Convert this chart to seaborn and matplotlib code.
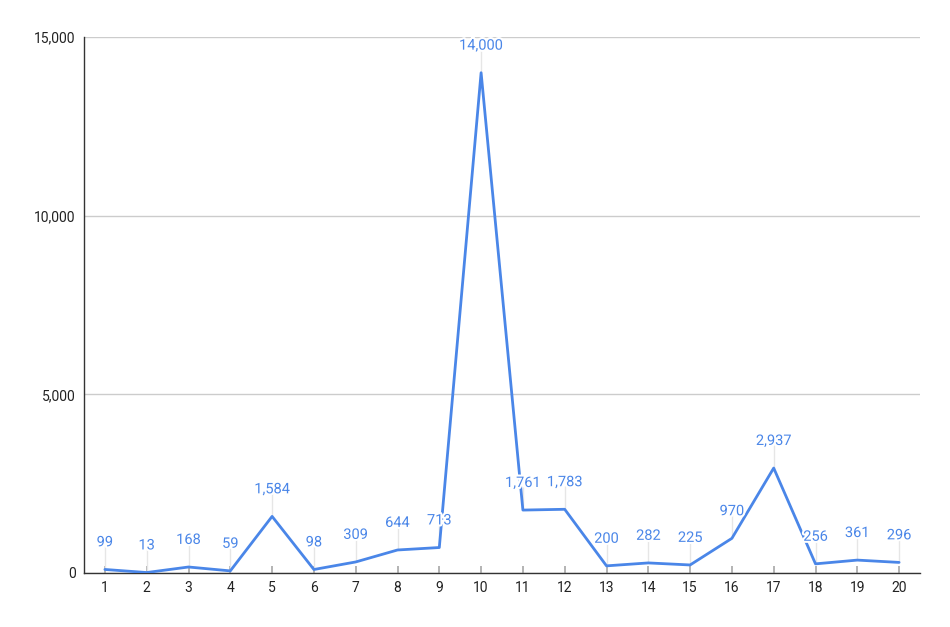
import matplotlib
matplotlib.use("Agg")
import matplotlib.pyplot as plt
import matplotlib.patheffects as pe
from matplotlib.ticker import FuncFormatter
import seaborn as sns
import pandas as pd

categories = list(range(1, 21))
values = [99, 13, 168, 59, 1584, 98, 309, 644, 713, 14000,
          1761, 1783, 200, 282, 225, 970, 2937, 256, 361, 296]
y_ticks = [0, 5000, 10000, 15000]

df = pd.DataFrame({"x": categories, "y": values})

sns.set_theme(style="white")
plt.rcParams['font.family'] = ['Roboto', 'DejaVu Sans']

fig = plt.figure(figsize=(9.5, 6.27), dpi=100)
ax = fig.add_axes([84 / 950, 54 / 627, 836 / 950, 536 / 627])

blue = "#4a86e8"

# leader lines from points up to labels
ax.vlines(df.x, df.y, df.y + 650, color="#e6e6e6", lw=1, zorder=1)

sns.lineplot(data=df, x="x", y="y", color=blue, lw=2, ax=ax, zorder=3)

for xv, yv in zip(categories, values):
    ax.annotate(f"{yv:,}", (xv, yv), xytext=(0, 19.5), textcoords="offset points",
                ha="center", va="center", fontsize=10.5, color=blue, zorder=4,
                path_effects=[pe.withStroke(linewidth=3, foreground="white")])

ax.set_xlim(0.5, 20.5)
ax.set_ylim(0, 15000)
ax.set_xticks(categories)
ax.set_yticks(y_ticks)
ax.yaxis.set_major_formatter(FuncFormatter(lambda v, p: f"{int(v):,}"))
ax.grid(axis="y", color="#cccccc", lw=1)
ax.set_axisbelow(True)

for s in ["top", "right"]:
    ax.spines[s].set_visible(False)
ax.spines["left"].set_color("#333333")
ax.spines["bottom"].set_color("#333333")
ax.spines["left"].set_linewidth(1)
ax.spines["bottom"].set_linewidth(1)

ax.tick_params(axis="x", direction="in", length=5, color="#aaaaaa", labelsize=10,
               labelcolor="#222222", pad=6, bottom=True)
ax.tick_params(axis="y", length=0, labelsize=10, labelcolor="#222222", pad=6)
ax.set_xlabel("")
ax.set_ylabel("")

fig.savefig("out.png", dpi=100)
